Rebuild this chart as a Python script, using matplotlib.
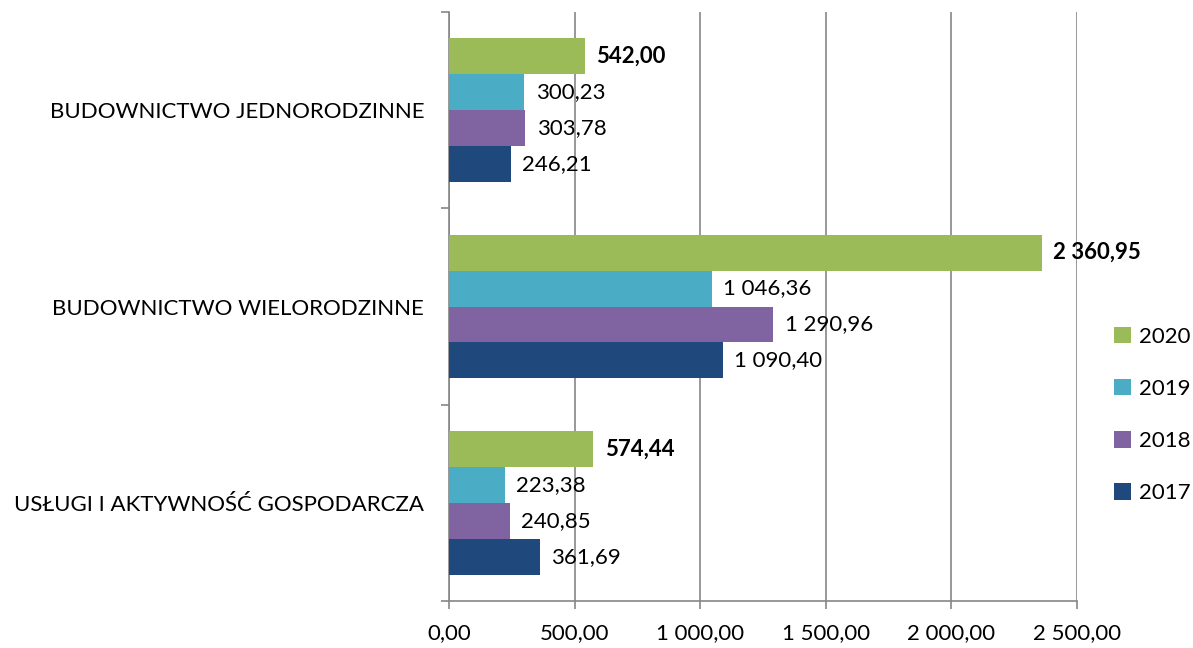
import matplotlib
matplotlib.use("Agg")
import matplotlib.pyplot as plt
import numpy as np

categories = ["BUDOWNICTWO JEDNORODZINNE", "BUDOWNICTWO WIELORODZINNE", "USŁUGI I AKTYWNOŚĆ GOSPODARCZA"]
years = ["2020", "2019", "2018", "2017"]
values = {
    "2020": [542.00, 2360.95, 574.44],
    "2019": [300.23, 1046.36, 223.38],
    "2018": [303.78, 1290.96, 240.85],
    "2017": [246.21, 1090.40, 361.69],
}
colors = {"2020": "#9BBB59", "2019": "#4BACC6", "2018": "#8064A2", "2017": "#1F497D"}
xticks = [0, 500, 1000, 1500, 2000, 2500]

def fmt(v):
    s = f"{v:,.2f}"
    return s.replace(",", " ").replace(".", ",")

plt.rcParams['font.family'] = ['Lato', 'DejaVu Sans']
FS = 16

fig = plt.figure(figsize=(11.93, 6.48), dpi=100)
ax = fig.add_axes([449/1193, 1 - 601/648, (1077 - 449)/1193, (601 - 12)/648])

n = len(categories)
bar_h = 0.183
centers = np.arange(n)  # 0 top
for i, y in enumerate(years):
    offs = (i - 1.5) * bar_h
    pos = centers + offs
    ax.barh(pos, values[y], height=bar_h, color=colors[y], label=y, zorder=3)
    for p, v in zip(pos, values[y]):
        ax.text(v + 2500 * 0.018, p, fmt(v), va='center', ha='left', fontsize=FS,
                fontweight='bold' if y == "2020" else 'normal', color='black', zorder=4)

ax.set_ylim(n - 0.5, -0.5)
ax.set_xlim(0, 2500)
ax.set_xticks(xticks)
ax.set_xticklabels([fmt(v) for v in xticks], fontsize=FS)
ax.set_yticks(centers)
ax.set_yticklabels(categories, fontsize=FS)
ax.set_yticks(np.arange(n + 1) - 0.5, minor=True)
ax.tick_params(axis='y', which='major', length=0, pad=18)
ax.tick_params(axis='y', which='minor', length=6, color='#868686', width=1.2)
ax.tick_params(axis='x', length=6, color='#868686', width=1.2, pad=10)
ax.grid(axis='x', color='#868686', linewidth=1.2, zorder=0)
for s in ['top', 'right']:
    ax.spines[s].set_visible(False)
for s in ['left', 'bottom']:
    ax.spines[s].set_color('#868686')
    ax.spines[s].set_linewidth(1.2)

handles, labels = ax.get_legend_handles_labels()
fig.legend(handles, labels, loc='center left', bbox_to_anchor=(1105/1193, 1 - 415/648),
           frameon=False, fontsize=FS, handlelength=0.75, handleheight=0.75,
           labelspacing=1.45, handletextpad=0.4, borderaxespad=0)

fig.savefig("out.png", dpi=100)
